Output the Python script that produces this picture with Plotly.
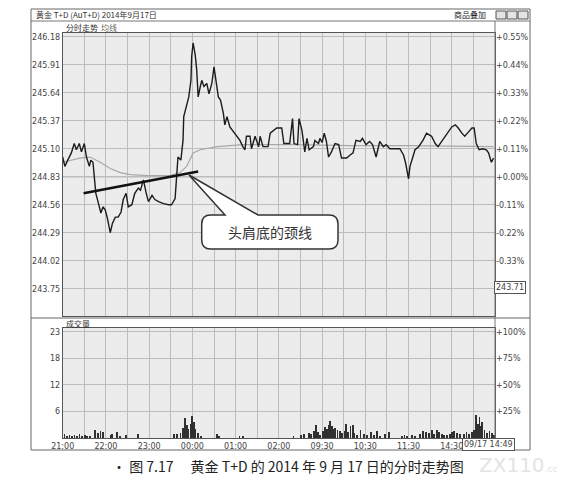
import plotly.graph_objects as go

# page body has an 8px margin, so the figure is drawn 8px in from the corner
OFF = 8
W, H = 569 - 2 * OFF, 492 - 2 * OFF
def PX(x): return (x - OFF) / W
def PY(y): return 1 - (y - OFF) / H

# ---------------- data ----------------
price_min = [0, 3, 7, 12, 16, 19, 23, 26, 30, 33, 37, 39, 42, 44, 46, 49, 53, 56, 59, 62,
             66, 69, 73, 77, 81, 84, 88, 91, 96, 100, 105, 108, 112, 116, 119, 124, 128, 133, 140, 147,
             151, 156, 158, 160, 164, 167, 168, 172, 175, 178, 179, 181, 184, 186, 188, 191, 193, 196, 200, 203,
             207, 210, 213, 216, 219, 223, 225, 228, 232, 239, 246, 250, 253, 255, 260, 262, 267, 272, 274, 278,
             285, 288, 297, 304, 307, 315, 319, 321, 326, 328, 332, 336, 339, 342, 348, 350, 355, 357, 360, 363,
             366, 369, 373, 378, 383, 387, 394, 399, 403, 407, 413, 416, 421, 426, 430, 435, 440, 445, 449, 454,
             461, 468, 473, 476, 480, 482, 486, 489, 494, 500, 505, 512, 517, 521, 526, 529, 535, 540, 545, 549,
             554, 558, 563, 568, 571, 574, 578, 583, 588, 591, 595, 598]
price = [245.02, 244.93, 244.99, 245.06, 245.15, 245.09, 245.15, 245.07, 245.15, 245.02, 244.93, 244.99, 244.97, 244.80, 244.67, 244.59, 244.48, 244.54, 244.51, 244.43,
         244.29, 244.38, 244.44, 244.44, 244.49, 244.61, 244.67, 244.54, 244.56, 244.67, 244.72, 244.70, 244.80, 244.67, 244.59, 244.65, 244.61, 244.59, 244.57, 244.56,
         244.56, 244.62, 244.83, 245.02, 244.99, 245.18, 245.41, 245.51, 245.60, 245.76, 245.99, 246.12, 246.00, 245.86, 245.60, 245.70, 245.76, 245.70, 245.73, 245.63,
         245.73, 245.89, 245.76, 245.60, 245.57, 245.44, 245.33, 245.41, 245.31, 245.25, 245.18, 245.12, 245.09, 245.22, 245.22, 245.10, 245.22, 245.12, 245.22, 245.12,
         245.12, 245.25, 245.30, 245.30, 245.15, 245.15, 245.39, 245.15, 245.14, 245.39, 245.28, 245.07, 245.20, 245.09, 245.12, 245.18, 245.15, 245.20, 245.16, 245.25,
         245.17, 245.02, 245.07, 245.15, 245.14, 245.01, 245.01, 245.04, 245.06, 245.18, 245.17, 245.20, 245.14, 245.17, 245.14, 245.02, 245.17, 245.12, 245.14, 245.10,
         245.10, 245.10, 245.04, 244.96, 244.81, 244.93, 245.02, 245.09, 245.12, 245.18, 245.25, 245.22, 245.15, 245.12, 245.17, 245.20, 245.25, 245.31, 245.33, 245.30,
         245.25, 245.22, 245.26, 245.30, 245.30, 245.15, 245.09, 245.10, 245.09, 245.06, 244.97, 245.01]

avg_min = [0, 24, 38, 52, 66, 80, 94, 117, 149, 163, 172, 181, 191, 214, 250, 320, 400, 480, 598]
avg_price = [244.97, 245.01, 245.02, 244.97, 244.91, 244.87, 244.85, 244.84, 244.84, 244.87, 244.93, 245.06, 245.09, 245.12, 245.14, 245.14, 245.13, 245.13, 245.12]

vol_min = [2, 5, 9, 12, 16, 19, 23, 26, 30, 33, 38, 45, 48, 52, 56, 66, 68, 75, 79, 88,
           104, 154, 158, 163, 167, 169, 172, 174, 177, 179, 180, 182, 184, 187, 191, 214, 216, 245, 250, 320,
           330, 335, 341, 344, 348, 351, 354, 357, 361, 364, 366, 369, 371, 373, 376, 378, 381, 384, 387, 391,
           393, 396, 399, 402, 404, 408, 413, 418, 422, 427, 432, 436, 440, 447, 452, 470, 474, 477, 484, 489,
           496, 500, 504, 508, 512, 515, 519, 522, 526, 529, 533, 537, 540, 543, 547, 551, 556, 560, 564, 568,
           571, 573, 576, 578, 580, 582, 585, 588, 592, 595, 598]
volume = [0.8, 0.5, 0.7, 0.5, 0.6, 0.4, 0.9, 0.5, 0.6, 0.4, 0.3, 1.8, 1.0, 1.6, 1.2, 0.6, 0.8, 1.2, 0.5, 0.6,
          0.9, 0.8, 0.9, 1.0, 2.2, 4.3, 2.8, 2.0, 3.0, 4.8, 2.5, 3.5, 2.0, 1.0, 0.5, 0.8, 0.5, 0.5, 0.4, 0.4,
          0.6, 0.8, 1.0, 0.9, 1.6, 2.8, 1.2, 0.6, 1.5, 2.3, 2.0, 2.9, 3.6, 2.5, 2.0, 2.2, 1.8, 1.5, 1.0, 1.6,
          3.0, 1.2, 2.6, 2.9, 1.0, 0.6, 1.8, 0.8, 0.6, 1.2, 0.7, 1.5, 0.5, 0.8, 1.2, 0.5, 0.6, 0.4, 0.6, 0.5,
          0.9, 1.6, 1.4, 1.0, 1.7, 0.9, 1.8, 1.3, 0.9, 0.7, 0.6, 0.9, 1.3, 1.5, 1.1, 0.9, 0.8, 1.3, 0.9, 1.2,
          1.8, 4.9, 3.0, 4.5, 2.6, 3.5, 1.8, 1.0, 1.6, 1.0, 0.6]

neck_min = [29, 188]
neck_price = [244.67, 244.88]

price_ticks = [246.18, 245.91, 245.64, 245.37, 245.10, 244.83, 244.56, 244.29, 244.02, 243.75]
price_tick_text = ["246.18", "245.91", "245.64", "245.37", "245.10", "244.83", "244.56", "244.29", "244.02", "243.75"]
pct_tick_text = ["+0.55%", "+0.44%", "+0.33%", "+0.22%", "+0.11%", "+0.00%", "-0.11%", "-0.22%", "-0.33%", ""]
prev_close = 244.83

time_ticks = list(range(0, 601, 30))
time_labels = ["21:00", "", "22:00", "", "23:00", "", "00:00", "", "01:00", "", "02:00", "",
               "09:30", "", "10:30", "", "11:30", "", "14:30", "", ""]

vol_ticks = [5.75, 11.5, 17.25, 23]
vol_tick_text = ["6", "12", "18", "23"]
vol_pct_text = ["+25%", "+50%", "+75%", "+100%"]

# ---------------- figure ----------------
GRID = "#bdbdbd"
AXC = "#555555"
TF = dict(family="DejaVu Sans", size=8, color="#444444")

fig = go.Figure()
fig.add_trace(go.Scatter(x=avg_min, y=avg_price, mode="lines", line=dict(color="#a8a8a8", width=1.2),
                         xaxis="x", yaxis="y", hoverinfo="skip", showlegend=False))
fig.add_trace(go.Scatter(x=price_min, y=price, mode="lines", line=dict(color="#1c1c1c", width=1.4),
                         xaxis="x", yaxis="y", showlegend=False))
fig.add_trace(go.Scatter(x=neck_min, y=neck_price, mode="lines", line=dict(color="#111111", width=2.6),
                         xaxis="x", yaxis="y", hoverinfo="skip", showlegend=False))
fig.add_trace(go.Scatter(x=[0], y=[prev_close], mode="markers", marker=dict(opacity=0),
                         xaxis="x", yaxis="y3", hoverinfo="skip", showlegend=False))
fig.add_trace(go.Bar(x=vol_min, y=volume, width=1.2, marker=dict(color="#303030", line=dict(width=0)),
                     xaxis="x2", yaxis="y2", showlegend=False))
fig.add_trace(go.Scatter(x=[0], y=[0], mode="markers", marker=dict(opacity=0),
                         xaxis="x2", yaxis="y4", hoverinfo="skip", showlegend=False))

xdom = [PX(62.7), PX(495)]
common_x = dict(domain=xdom, range=[0, 600], tickmode="array", tickvals=time_ticks,
                showgrid=True, gridcolor=GRID, gridwidth=1, zeroline=False,
                showline=True, linecolor=AXC, linewidth=1, mirror=True, ticks="", automargin=False)

fig.update_layout(
    width=W, height=H, margin=dict(l=0, r=0, t=0, b=0),
    paper_bgcolor="white", plot_bgcolor="#ececec",
    bargap=0,
    xaxis=dict(**common_x, anchor="y", showticklabels=False),
    xaxis2=dict(**common_x, anchor="y2", ticktext=time_labels, tickfont=TF),
    yaxis=dict(domain=[PY(316), PY(33)], range=[243.487, 246.216], tickmode="array",
               tickvals=price_ticks, ticktext=price_tick_text, tickfont=TF,
               showgrid=True, gridcolor=GRID, zeroline=False, showline=True, linecolor=AXC,
               mirror=True, ticks="", automargin=False, anchor="x"),
    yaxis3=dict(overlaying="y", side="right", range=[243.487, 246.216], tickmode="array",
                tickvals=price_ticks, ticktext=pct_tick_text, tickfont=TF, showgrid=False,
                zeroline=False, ticks="", automargin=False, anchor="x"),
    yaxis2=dict(domain=[PY(438), PY(328)], range=[0, 23.8], tickmode="array",
                tickvals=vol_ticks, ticktext=vol_tick_text, tickfont=TF,
                showgrid=True, gridcolor=GRID, zeroline=False, showline=True, linecolor=AXC,
                mirror=True, ticks="", automargin=False, anchor="x2"),
    yaxis4=dict(overlaying="y2", side="right", range=[0, 23.8], tickmode="array",
                tickvals=vol_ticks, ticktext=vol_pct_text, tickfont=TF, showgrid=False,
                zeroline=False, ticks="", automargin=False, anchor="x2"),
)

shapes = []
shapes.append(dict(type="line", xref="x", yref="y", x0=0, x1=600, y0=prev_close, y1=prev_close,
                   line=dict(color="#7a7a7a", width=1), layer="below"))
FL, FR, FT, FB = 31, 530, 9, 450
shapes.append(dict(type="rect", xref="paper", yref="paper", x0=PX(FL), x1=PX(FR), y0=PY(FB), y1=PY(FT),
                   line=dict(color="#666666", width=1)))
shapes.append(dict(type="line", xref="paper", yref="paper", x0=PX(FL), x1=PX(FR), y0=PY(21), y1=PY(21),
                   line=dict(color="#777777", width=1)))
shapes.append(dict(type="line", xref="paper", yref="paper", x0=PX(FL), x1=PX(FR), y0=PY(318), y1=PY(318),
                   line=dict(color="#666666", width=1)))
shapes.append(dict(type="line", xref="paper", yref="paper", x0=PX(495), x1=PX(495), y0=PY(FB), y1=PY(21),
                   line=dict(color="#777777", width=1)))
for bx in (496, 507, 518):
    shapes.append(dict(type="rect", xref="paper", yref="paper", x0=PX(bx), x1=PX(bx + 10),
                       y0=PY(19), y1=PY(11), line=dict(color="#555555", width=1), fillcolor="#e4e4e4"))
# callout box
L, R, T, B, r = 201.7, 338, 215, 249, 9
tip, a, b = (189, 175), (225, 215), (258, 215)
def P(x, y): return f"{PX(x):.5f},{PY(y):.5f}"
path = (f"M {P(L + r, T)} L {P(a[0], a[1])} L {P(*tip)} L {P(b[0], b[1])} L {P(R - r, T)} "
        f"Q {P(R, T)} {P(R, T + r)} L {P(R, B - r)} Q {P(R, B)} {P(R - r, B)} "
        f"L {P(L + r, B)} Q {P(L, B)} {P(L, B - r)} L {P(L, T + r)} Q {P(L, T)} {P(L + r, T)} Z")
shapes.append(dict(type="path", xref="paper", yref="paper", path=path, fillcolor="white",
                   line=dict(color="#333333", width=1.5), layer="above"))
fig.update_layout(shapes=shapes)

ann = []
def text(x, y, s, size=8, color="#333333", xanchor="left", family="Noto Sans CJK SC", **kw):
    ann.append(dict(x=PX(x), y=PY(y), xref="paper", yref="paper", text=s, showarrow=False,
                    xanchor=xanchor, yanchor="middle", font=dict(family=family, size=size, color=color), **kw))

text(34, 15, "黄金 T+D (AuT+D) 2014年9月17日", size=8)
text(452, 15, "商品叠加", size=8, color="#222222")
text(64, 28, "分时走势", size=8)
text(99, 28, "均线", size=8, color="#666666")
text(64, 323, "成交量", size=8)
text(270, 232, "头肩底的颈线", size=14, color="#333333", xanchor="center")
ann.append(dict(x=PX(510), y=PY(287), xref="paper", yref="paper", text="243.71", showarrow=False,
                xanchor="center", yanchor="middle", font=dict(family="DejaVu Sans", size=8, color="#444444"),
                bordercolor="#555555", borderwidth=1, borderpad=1, bgcolor="white"))
ann.append(dict(x=PX(488), y=PY(444), xref="paper", yref="paper", text="09/17 14:49", showarrow=False,
                xanchor="center", yanchor="middle", font=dict(family="DejaVu Sans", size=8, color="#444444"),
                bordercolor="#555555", borderwidth=1, borderpad=1, bgcolor="white"))
text(288, 466, "• 图 7.17　 黄金 T+D 的 2014 年 9 月 17 日的分时走势图", size=14, color="#222222",
     xanchor="center")
text(518, 465, "ZX110<span style='font-size:9px'>.cc</span>", size=20, color="#e4e4e4",
     xanchor="center", family="DejaVu Sans")
fig.update_layout(annotations=ann)

fig.write_html("out.html")
